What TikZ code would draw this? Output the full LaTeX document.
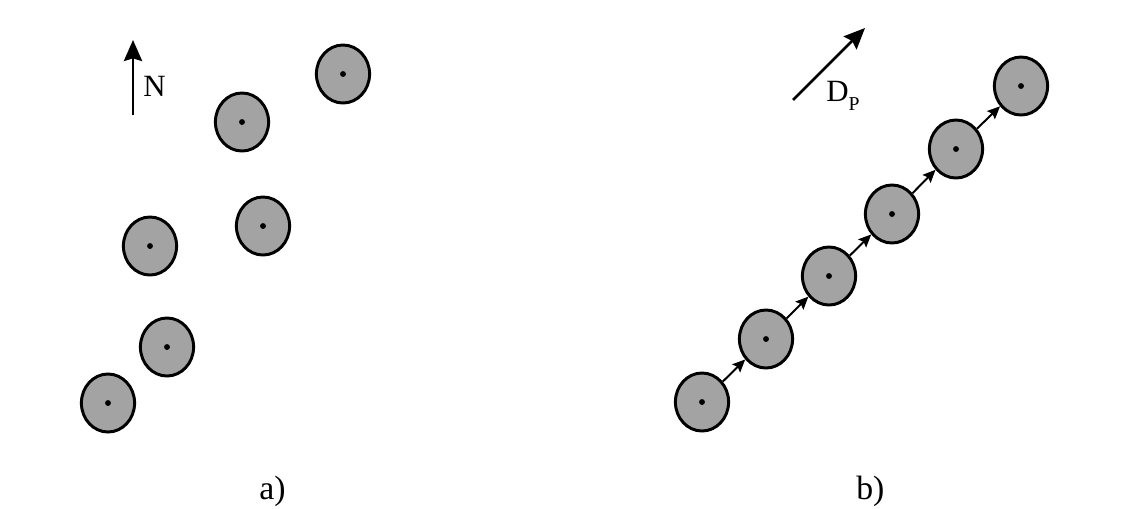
\documentclass[tikz,border=0pt]{standalone}
\usepackage{fontspec}
\setmainfont{Liberation Serif}
\usetikzlibrary{arrows.meta,shapes.geometric}
\definecolor{disk}{HTML}{A3A3A3}
\tikzset{
  pt/.style ={ellipse, draw=black, fill=disk, line width=2.1pt, minimum width=1.33cm, minimum height=1.45cm, inner sep=0pt,
              path picture={\fill[black] (path picture bounding box.center) circle (2.1pt);}},
  dirarr/.style={-{Stealth[length=15pt, width=13pt, inset=2pt]}, line width=1.8pt},
  steparr/.style={-{Stealth[length=9pt, width=8pt, inset=1.5pt]}, line width=1.4pt},
  lbl/.style={anchor=base west, inner sep=0pt, font=\fontsize{22}{26}\selectfont},
  sublbl/.style={anchor=base west, inner sep=0pt, font=\fontsize{24}{28}\selectfont},
}
\begin{document}
\begin{tikzpicture}[x=0.025cm, y=-0.025cm]
  \useasboundingbox (0,0) rectangle (1140,508);
  % a) random positions
  \node[pt] (a1) at (108,403) {};
  \node[pt] (a2) at (167,347) {};
  \node[pt] (a3) at (150,246) {};
  \node[pt] (a4) at (263,226) {};
  \node[pt] (a5) at (242,122) {};
  \node[pt] (a6) at (343,74)  {};
  \coordinate (Nb) at (133,115);
  \coordinate (Nt) at (133,40);
  \draw[dirarr] (Nb) -- (Nt);
  \node[lbl] (N) at (143,96) {N};
  % b) aligned along D_P
  \node[pt] (b1) at (702,402) {};
  \node[pt] (b2) at (766,339) {};
  \node[pt] (b3) at (829,276) {};
  \node[pt] (b4) at (892,214) {};
  \node[pt] (b5) at (956,149) {};
  \node[pt] (b6) at (1021,86) {};
  \foreach \i/\j in {1/2,2/3,3/4,4/5,5/6}
    \draw[steparr] (b\i) -- (b\j);
  \coordinate (Db) at (793,100);
  \coordinate (Dt) at (865,28);
  \draw[dirarr] (Db) -- (Dt);
  \node[lbl] (D) at (826,101.7) {D\raisebox{-5.9pt}{\fontsize{14}{16}\selectfont P}};
  % captions
  \node[sublbl] (ca) at (259,499) {a)};
  \node[sublbl] (cb) at (856,499) {b)};
\end{tikzpicture}
\end{document}
